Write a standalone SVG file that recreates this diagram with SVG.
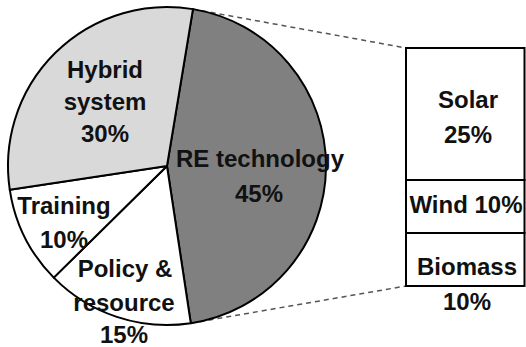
<svg xmlns="http://www.w3.org/2000/svg" width="526" height="347" viewBox="0 0 526 347">
  <style>
    .slice { stroke: #000; stroke-width: 2; stroke-linejoin: round; }
    .lbl { font-family: "Liberation Sans", Arial, sans-serif; font-weight: bold; font-size: 24px; fill: #111; text-anchor: middle; }
    .cell { fill: #fff; stroke: #000; stroke-width: 2; }
    .lead { stroke: #555; stroke-width: 1.5; stroke-dasharray: 5 4; fill: none; }
  </style>

  <!-- leader lines from the RE technology slice to the breakdown bar -->
  <g id="connectors">
    <line class="lead" x1="192.97" y1="9.13" x2="406" y2="48"/>
    <line class="lead" x1="190.78" y1="323.21" x2="406" y2="286"/>
  </g>

  <!-- pie chart -->
  <g id="re-technology">
    <path class="slice" fill="#808080" d="M167,166 L192.97,9.13 A159,159 0 0 1 190.78,323.21 Z"/>
  </g>
  <g id="policy-resource">
    <path class="slice" fill="#fff" d="M167,166 L190.78,323.21 A159,159 0 0 1 53.76,277.62 Z"/>
  </g>
  <g id="training">
    <path class="slice" fill="#fff" d="M167,166 L53.76,277.62 A159,159 0 0 1 9.79,189.78 Z"/>
  </g>
  <g id="hybrid-system">
    <path class="slice" fill="#d9d9d9" d="M167,166 L9.79,189.78 A159,159 0 0 1 192.97,9.13 Z"/>
  </g>

  <!-- pie labels -->
  <g id="pie-labels">
    <text class="lbl" x="105" y="78">Hybrid</text>
    <text class="lbl" x="105" y="110">system</text>
    <text class="lbl" x="105" y="142">30%</text>
    <text class="lbl" x="260" y="167">RE technology</text>
    <text class="lbl" x="259" y="202">45%</text>
    <text class="lbl" x="64" y="214">Training</text>
    <text class="lbl" x="64" y="248">10%</text>
    <text class="lbl" x="125" y="277">Policy &amp;</text>
    <text class="lbl" x="124" y="311">resource</text>
    <text class="lbl" x="124" y="343">15%</text>
  </g>

  <!-- breakdown bar -->
  <g id="solar">
    <rect class="cell" x="406" y="48" width="118.5" height="132"/>
    <text class="lbl" x="468" y="108">Solar</text>
    <text class="lbl" x="468" y="143">25%</text>
  </g>
  <g id="wind">
    <rect class="cell" x="406" y="180" width="118.5" height="53"/>
    <text class="lbl" x="466" y="213">Wind 10%</text>
  </g>
  <g id="biomass">
    <rect class="cell" x="406" y="233" width="118.5" height="53"/>
    <text class="lbl" x="467" y="275">Biomass</text>
    <text class="lbl" x="467" y="310">10%</text>
  </g>
</svg>
